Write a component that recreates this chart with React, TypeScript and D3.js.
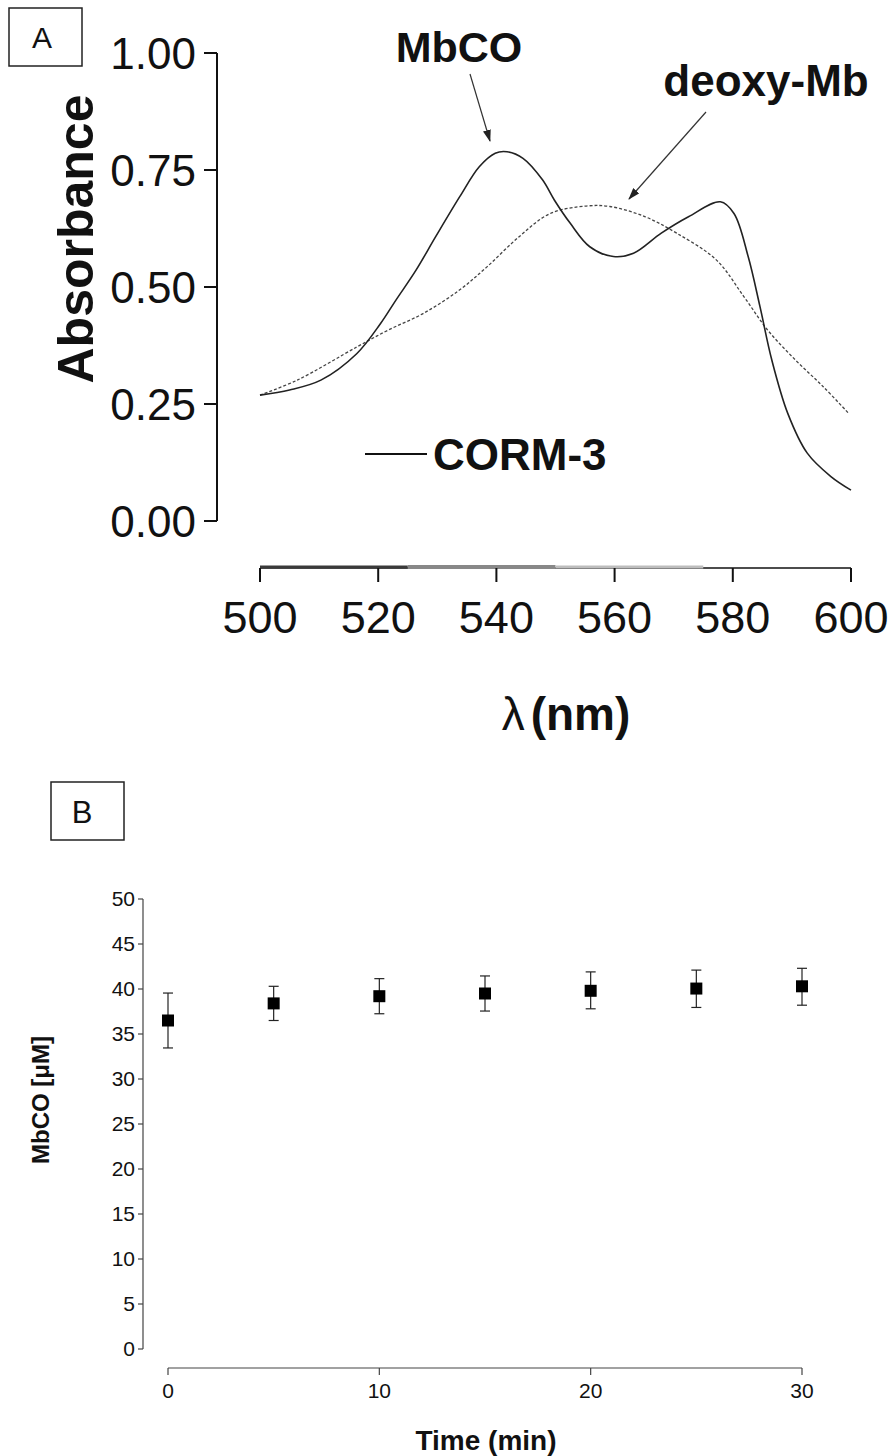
import React from "react";
import * as d3 from "d3";

// ---------- Panel A data ----------
const mbcoWavelength = [500, 505, 510.3, 516.4, 520.4, 523, 526.4, 529.7, 533.8, 537.1, 539.8, 541.8, 544.5, 547.8, 549.8, 552.5, 555.8, 559.8, 563.2, 567.9, 572.5, 577.9, 580.2, 582.6, 584.6, 586.6, 589.3, 592.6, 596.6, 600];
const mbcoAbs = [0.269, 0.28, 0.301, 0.358, 0.422, 0.472, 0.536, 0.607, 0.693, 0.757, 0.786, 0.789, 0.775, 0.729, 0.686, 0.636, 0.586, 0.565, 0.572, 0.615, 0.65, 0.682, 0.657, 0.565, 0.458, 0.344, 0.23, 0.145, 0.095, 0.066];
const deoxyWavelength = [500, 506.3, 516.4, 521.7, 527.7, 533.8, 538.4, 543.8, 549.1, 555.2, 559.2, 565.2, 570.5, 577.2, 581.9, 585.9, 590.6, 595.3, 599.6];
const deoxyAbs = [0.269, 0.301, 0.372, 0.408, 0.444, 0.494, 0.543, 0.607, 0.657, 0.673, 0.672, 0.65, 0.615, 0.558, 0.479, 0.408, 0.344, 0.287, 0.23];
const absTicks = [0, 0.25, 0.5, 0.75, 1.0];
const lambdaTicks = [500, 520, 540, 560, 580, 600];

// ---------- Panel B data ----------
const timeMin = [0, 5, 10, 15, 20, 25, 30];
const mbcoMean = [36.5, 38.4, 39.2, 39.5, 39.8, 40.05, 40.3];
const mbcoLow = [33.45, 36.5, 37.25, 37.55, 37.8, 37.95, 38.2];
const mbcoHigh = [39.55, 40.3, 41.15, 41.45, 41.9, 42.1, 42.3];
const concTicks = [0, 5, 10, 15, 20, 25, 30, 35, 40, 45, 50];
const timeTicks = [0, 10, 20, 30];

const FONT = "'Liberation Sans', Arial, Helvetica, sans-serif";

export default function App() {
  const xA = d3.scaleLinear().domain([500, 600]).range([260, 851]);
  const yA = d3.scaleLinear().domain([0, 1]).range([521, 53]);
  const lineA = d3
    .line<[number, number]>()
    .x((d) => xA(d[0]))
    .y((d) => yA(d[1]))
    .curve(d3.curveCatmullRom.alpha(0.5));
  const mbcoPath = lineA(mbcoWavelength.map((w, i) => [w, mbcoAbs[i]]) as [number, number][]) || "";
  const deoxyPath = lineA(deoxyWavelength.map((w, i) => [w, deoxyAbs[i]]) as [number, number][]) || "";

  const xB = d3.scaleLinear().domain([0, 30]).range([168, 802]);
  const yB = d3.scaleLinear().domain([0, 50]).range([1349, 899]);

  const axisYA = 568;
  const segs = [
    { a: 500, b: 525, c: "#3a3a3a", w: 3 },
    { a: 525, b: 550, c: "#888", w: 4 },
    { a: 550, b: 575, c: "#bdbdbd", w: 3 },
  ];

  return (
    <svg
      width={892}
      height={1456}
      viewBox="0 0 892 1456"
      style={{ position: "absolute", left: 0, top: 0, display: "block", background: "#fff" }}
      fontFamily={FONT}
    >
      <defs>
        <marker id="arr" viewBox="0 0 12 8" refX="11" refY="4" markerWidth="12" markerHeight="8" markerUnits="userSpaceOnUse" orient="auto">
          <path d="M0,0 L12,4 L0,8 Z" fill="#222" />
        </marker>
      </defs>
      <rect x={0} y={0} width={892} height={1456} fill="#fff" />

      {/* ===== Panel A ===== */}
      <rect x={9} y={8} width={73} height={58} fill="none" stroke="#222" strokeWidth={1.5} />
      <text x={42} y={48} fontSize={30} textAnchor="middle" fill="#111">A</text>

      {/* y axis */}
      <line x1={217} x2={217} y1={yA(1)} y2={yA(0)} stroke="#111" strokeWidth={2} />
      {absTicks.map((t) => (
        <g key={"ya" + t}>
          <line x1={204} x2={217} y1={yA(t)} y2={yA(t)} stroke="#111" strokeWidth={2} />
          <text x={196} y={yA(t) + 16} fontSize={44} textAnchor="end" fill="#111">
            {t.toFixed(2)}
          </text>
        </g>
      ))}
      <text
        transform={`translate(93,239) rotate(-90)`}
        fontSize={50}
        fontWeight="bold"
        textAnchor="middle"
        fill="#111"
      >
        Absorbance
      </text>

      {/* x axis */}
      <line x1={xA(500)} x2={xA(600)} y1={axisYA} y2={axisYA} stroke="#111" strokeWidth={1.5} />
      {segs.map((s, i) => (
        <line key={"seg" + i} x1={xA(s.a)} x2={xA(s.b)} y1={axisYA - 1} y2={axisYA - 1} stroke={s.c} strokeWidth={s.w} />
      ))}
      {lambdaTicks.map((t) => (
        <g key={"xa" + t}>
          <line x1={xA(t)} x2={xA(t)} y1={axisYA} y2={582} stroke="#111" strokeWidth={2} />
          <text x={xA(t)} y={633} fontSize={45} textAnchor="middle" fill="#111">
            {t}
          </text>
        </g>
      ))}
      <text x={566} y={730} fontSize={46} textAnchor="middle" fill="#111">
        <tspan fontWeight="normal">λ</tspan>
        <tspan fontWeight="bold" dx={6}>(nm)</tspan>
      </text>

      {/* curves */}
      <path d={deoxyPath} fill="none" stroke="#444" strokeWidth={1.3} strokeDasharray="3,2" />
      <path d={mbcoPath} fill="none" stroke="#222" strokeWidth={1.6} />

      {/* annotations */}
      <text x={459} y={62} fontSize={43} fontWeight="bold" textAnchor="middle" fill="#111">MbCO</text>
      <line x1={470} y1={74} x2={490} y2={141} stroke="#333" strokeWidth={1.2} markerEnd="url(#arr)" />
      <text x={766} y={96} fontSize={44} fontWeight="bold" textAnchor="middle" fill="#111">deoxy-Mb</text>
      <line x1={706} y1={112} x2={629} y2={199} stroke="#333" strokeWidth={1.2} markerEnd="url(#arr)" />

      <line x1={365} x2={427} y1={454} y2={454} stroke="#111" strokeWidth={2} />
      <text x={433} y={470} fontSize={44} fontWeight="bold" fill="#111">CORM-3</text>

      {/* ===== Panel B ===== */}
      <rect x={51} y={782} width={73} height={58} fill="none" stroke="#222" strokeWidth={1.5} />
      <text x={82} y={823} fontSize={31} textAnchor="middle" fill="#111">B</text>

      <line x1={143} x2={143} y1={yB(50)} y2={yB(0)} stroke="#444" strokeWidth={1.2} />
      {concTicks.map((t) => (
        <g key={"yb" + t}>
          <line x1={138} x2={143} y1={yB(t)} y2={yB(t)} stroke="#444" strokeWidth={1.2} />
          <text x={135} y={yB(t) + 7} fontSize={21} textAnchor="end" fill="#111">
            {t}
          </text>
        </g>
      ))}
      <text
        transform={`translate(49,1100) rotate(-90)`}
        fontSize={24}
        fontWeight="bold"
        textAnchor="middle"
        fill="#111"
      >
        MbCO [μM]
      </text>

      <line x1={xB(0)} x2={xB(30)} y1={1368} y2={1368} stroke="#444" strokeWidth={1.2} />
      {timeTicks.map((t) => (
        <g key={"xb" + t}>
          <line x1={xB(t)} x2={xB(t)} y1={1368} y2={1375} stroke="#444" strokeWidth={1.2} />
          <text x={xB(t)} y={1398} fontSize={21} textAnchor="middle" fill="#111">
            {t}
          </text>
        </g>
      ))}
      <text x={486} y={1450} fontSize={28} fontWeight="bold" textAnchor="middle" fill="#111">
        Time (min)
      </text>

      {timeMin.map((t, i) => {
        const cx = xB(t);
        return (
          <g key={"pt" + t}>
            <line x1={cx} x2={cx} y1={yB(mbcoLow[i])} y2={yB(mbcoHigh[i])} stroke="#222" strokeWidth={1.2} />
            <line x1={cx - 5} x2={cx + 5} y1={yB(mbcoLow[i])} y2={yB(mbcoLow[i])} stroke="#222" strokeWidth={1.2} />
            <line x1={cx - 5} x2={cx + 5} y1={yB(mbcoHigh[i])} y2={yB(mbcoHigh[i])} stroke="#222" strokeWidth={1.2} />
            <rect x={cx - 6} y={yB(mbcoMean[i]) - 6} width={12} height={12} fill="#000" />
          </g>
        );
      })}
    </svg>
  );
}
